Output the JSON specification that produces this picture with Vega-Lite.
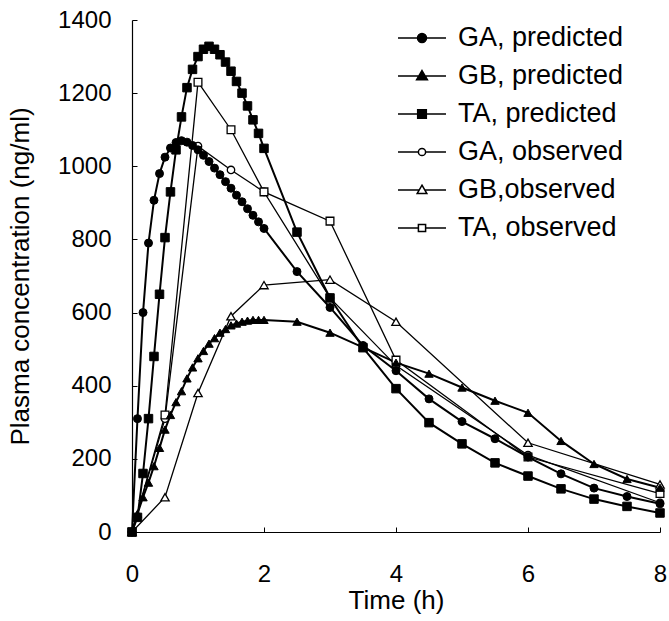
{
  "$schema": "https://vega.github.io/schema/vega-lite/v6.json",
  "autosize": {"type": "none"},
  "padding": {"left": 132, "top": 20, "right": 9, "bottom": 89},
  "width": 528,
  "height": 512,
  "background": "white",
  "config": {
    "view": {"stroke": null},
    "font": "Liberation Sans",
    "axis": {
      "grid": false,
      "domainColor": "black",
      "domainWidth": 1.2,
      "tickColor": "black",
      "tickSize": -5,
      "labelColor": "black",
      "titleColor": "black",
      "labelFont": "Liberation Sans",
      "titleFont": "Liberation Sans",
      "labelFontSize": 24,
      "titleFontSize": 26,
      "titleFontWeight": "normal"
    },
    "legend": {
      "labelFont": "Liberation Sans",
      "labelFontSize": 27,
      "labelColor": "black",
      "labelLimit": 400
    }
  },
  "data": {
    "values": [
      {"series": "GA, predicted", "t": 0, "c": 0},
      {"series": "GA, predicted", "t": 0.083, "c": 310},
      {"series": "GA, predicted", "t": 0.167, "c": 600},
      {"series": "GA, predicted", "t": 0.25, "c": 790},
      {"series": "GA, predicted", "t": 0.333, "c": 907},
      {"series": "GA, predicted", "t": 0.417, "c": 980},
      {"series": "GA, predicted", "t": 0.5, "c": 1025},
      {"series": "GA, predicted", "t": 0.583, "c": 1050},
      {"series": "GA, predicted", "t": 0.667, "c": 1065},
      {"series": "GA, predicted", "t": 0.75, "c": 1070},
      {"series": "GA, predicted", "t": 0.833, "c": 1066},
      {"series": "GA, predicted", "t": 0.917, "c": 1057},
      {"series": "GA, predicted", "t": 1.0, "c": 1045},
      {"series": "GA, predicted", "t": 1.083, "c": 1030},
      {"series": "GA, predicted", "t": 1.167, "c": 1013},
      {"series": "GA, predicted", "t": 1.25, "c": 995},
      {"series": "GA, predicted", "t": 1.333, "c": 977},
      {"series": "GA, predicted", "t": 1.417, "c": 958},
      {"series": "GA, predicted", "t": 1.5, "c": 940},
      {"series": "GA, predicted", "t": 1.583, "c": 921},
      {"series": "GA, predicted", "t": 1.667, "c": 903},
      {"series": "GA, predicted", "t": 1.75, "c": 884},
      {"series": "GA, predicted", "t": 1.833, "c": 866},
      {"series": "GA, predicted", "t": 1.917, "c": 848},
      {"series": "GA, predicted", "t": 2.0, "c": 830},
      {"series": "GA, predicted", "t": 2.5, "c": 712},
      {"series": "GA, predicted", "t": 3, "c": 614},
      {"series": "GA, predicted", "t": 3.5, "c": 510},
      {"series": "GA, predicted", "t": 4, "c": 441},
      {"series": "GA, predicted", "t": 4.5, "c": 364},
      {"series": "GA, predicted", "t": 5, "c": 302},
      {"series": "GA, predicted", "t": 5.5, "c": 255},
      {"series": "GA, predicted", "t": 6, "c": 205},
      {"series": "GA, predicted", "t": 6.5, "c": 159},
      {"series": "GA, predicted", "t": 7, "c": 120},
      {"series": "GA, predicted", "t": 7.5, "c": 97},
      {"series": "GA, predicted", "t": 8, "c": 77},
      {"series": "GB, predicted", "t": 0, "c": 0},
      {"series": "GB, predicted", "t": 0.083, "c": 50},
      {"series": "GB, predicted", "t": 0.167, "c": 95},
      {"series": "GB, predicted", "t": 0.25, "c": 135},
      {"series": "GB, predicted", "t": 0.333, "c": 180},
      {"series": "GB, predicted", "t": 0.417, "c": 230},
      {"series": "GB, predicted", "t": 0.5, "c": 280},
      {"series": "GB, predicted", "t": 0.583, "c": 320},
      {"series": "GB, predicted", "t": 0.667, "c": 355},
      {"series": "GB, predicted", "t": 0.75, "c": 385},
      {"series": "GB, predicted", "t": 0.833, "c": 420},
      {"series": "GB, predicted", "t": 0.917, "c": 450},
      {"series": "GB, predicted", "t": 1.0, "c": 475},
      {"series": "GB, predicted", "t": 1.083, "c": 495},
      {"series": "GB, predicted", "t": 1.167, "c": 515},
      {"series": "GB, predicted", "t": 1.25, "c": 530},
      {"series": "GB, predicted", "t": 1.333, "c": 545},
      {"series": "GB, predicted", "t": 1.417, "c": 555},
      {"series": "GB, predicted", "t": 1.5, "c": 565},
      {"series": "GB, predicted", "t": 1.583, "c": 570},
      {"series": "GB, predicted", "t": 1.667, "c": 575},
      {"series": "GB, predicted", "t": 1.75, "c": 578},
      {"series": "GB, predicted", "t": 1.833, "c": 580},
      {"series": "GB, predicted", "t": 1.917, "c": 580},
      {"series": "GB, predicted", "t": 2.0, "c": 580},
      {"series": "GB, predicted", "t": 2.5, "c": 575},
      {"series": "GB, predicted", "t": 3, "c": 545},
      {"series": "GB, predicted", "t": 3.5, "c": 505},
      {"series": "GB, predicted", "t": 4, "c": 463},
      {"series": "GB, predicted", "t": 4.5, "c": 433},
      {"series": "GB, predicted", "t": 5, "c": 395},
      {"series": "GB, predicted", "t": 5.5, "c": 359},
      {"series": "GB, predicted", "t": 6, "c": 326},
      {"series": "GB, predicted", "t": 6.5, "c": 249},
      {"series": "GB, predicted", "t": 7, "c": 186},
      {"series": "GB, predicted", "t": 7.5, "c": 145},
      {"series": "GB, predicted", "t": 8, "c": 121},
      {"series": "TA, predicted", "t": 0, "c": 0},
      {"series": "TA, predicted", "t": 0.083, "c": 40},
      {"series": "TA, predicted", "t": 0.167, "c": 160},
      {"series": "TA, predicted", "t": 0.25, "c": 310},
      {"series": "TA, predicted", "t": 0.333, "c": 480},
      {"series": "TA, predicted", "t": 0.417, "c": 650},
      {"series": "TA, predicted", "t": 0.5, "c": 805},
      {"series": "TA, predicted", "t": 0.583, "c": 930},
      {"series": "TA, predicted", "t": 0.667, "c": 1045},
      {"series": "TA, predicted", "t": 0.75, "c": 1135},
      {"series": "TA, predicted", "t": 0.833, "c": 1215},
      {"series": "TA, predicted", "t": 0.917, "c": 1265},
      {"series": "TA, predicted", "t": 1.0, "c": 1300},
      {"series": "TA, predicted", "t": 1.083, "c": 1320},
      {"series": "TA, predicted", "t": 1.167, "c": 1328},
      {"series": "TA, predicted", "t": 1.25, "c": 1320},
      {"series": "TA, predicted", "t": 1.333, "c": 1305},
      {"series": "TA, predicted", "t": 1.417, "c": 1285},
      {"series": "TA, predicted", "t": 1.5, "c": 1260},
      {"series": "TA, predicted", "t": 1.583, "c": 1232},
      {"series": "TA, predicted", "t": 1.667, "c": 1200},
      {"series": "TA, predicted", "t": 1.75, "c": 1165},
      {"series": "TA, predicted", "t": 1.833, "c": 1127},
      {"series": "TA, predicted", "t": 1.917, "c": 1090},
      {"series": "TA, predicted", "t": 2.0, "c": 1049},
      {"series": "TA, predicted", "t": 2.5, "c": 820},
      {"series": "TA, predicted", "t": 3, "c": 640},
      {"series": "TA, predicted", "t": 3.5, "c": 504},
      {"series": "TA, predicted", "t": 4, "c": 392},
      {"series": "TA, predicted", "t": 4.5, "c": 299},
      {"series": "TA, predicted", "t": 5, "c": 241},
      {"series": "TA, predicted", "t": 5.5, "c": 189},
      {"series": "TA, predicted", "t": 6, "c": 153},
      {"series": "TA, predicted", "t": 6.5, "c": 118},
      {"series": "TA, predicted", "t": 7, "c": 90},
      {"series": "TA, predicted", "t": 7.5, "c": 70},
      {"series": "TA, predicted", "t": 8, "c": 52},
      {"series": "GA, observed", "t": 0, "c": 0},
      {"series": "GA, observed", "t": 0.5, "c": 310},
      {"series": "GA, observed", "t": 1, "c": 1055},
      {"series": "GA, observed", "t": 1.5, "c": 990},
      {"series": "GA, observed", "t": 2, "c": 930},
      {"series": "GA, observed", "t": 3, "c": 640},
      {"series": "GA, observed", "t": 4, "c": 455},
      {"series": "GA, observed", "t": 6, "c": 210},
      {"series": "GA, observed", "t": 8, "c": 80},
      {"series": "GB,observed", "t": 0, "c": 0},
      {"series": "GB,observed", "t": 0.5, "c": 95},
      {"series": "GB,observed", "t": 1, "c": 380},
      {"series": "GB,observed", "t": 1.5, "c": 590},
      {"series": "GB,observed", "t": 2, "c": 675},
      {"series": "GB,observed", "t": 3, "c": 690},
      {"series": "GB,observed", "t": 4, "c": 575},
      {"series": "GB,observed", "t": 6, "c": 244},
      {"series": "GB,observed", "t": 8, "c": 130},
      {"series": "TA, observed", "t": 0, "c": 0},
      {"series": "TA, observed", "t": 0.5, "c": 320},
      {"series": "TA, observed", "t": 1, "c": 1230},
      {"series": "TA, observed", "t": 1.5, "c": 1100},
      {"series": "TA, observed", "t": 2, "c": 930},
      {"series": "TA, observed", "t": 3, "c": 850},
      {"series": "TA, observed", "t": 4, "c": 470},
      {"series": "TA, observed", "t": 6, "c": 205},
      {"series": "TA, observed", "t": 8, "c": 105}
    ]
  },
  "encoding": {
    "x": {
      "field": "t", "type": "quantitative",
      "scale": {"domain": [0, 8], "nice": false},
      "axis": {"values": [0, 2, 4, 6, 8], "format": "d", "title": "Time (h)", "labelPadding": 35, "titlePadding": 1, "labelFlush": false}
    },
    "y": {
      "field": "c", "type": "quantitative",
      "scale": {"domain": [0, 1400], "nice": false},
      "axis": {"values": [0, 200, 400, 600, 800, 1000, 1200, 1400], "format": "d", "title": "Plasma concentration (ng/ml)", "labelPadding": 26, "titlePadding": 24, "labelFlush": false}
    }
  },
  "layer": [
    {
      "transform": [{"filter": "indexof(datum.series, 'predicted') >= 0"}],
      "mark": {"type": "line", "stroke": "black", "strokeWidth": 2},
      "encoding": {"detail": {"field": "series"}, "order": {"field": "t"}}
    },
    {
      "transform": [{"filter": "indexof(datum.series, 'observed') >= 0"}],
      "mark": {"type": "line", "stroke": "black", "strokeWidth": 1.3},
      "encoding": {"detail": {"field": "series"}, "order": {"field": "t"}}
    },
    {
      "transform": [{"filter": "datum.series == 'GA, observed'"}],
      "mark": {"type": "point", "shape": "circle", "filled": true, "fill": "white", "stroke": "black", "strokeWidth": 1.3, "size": 55, "opacity": 1}
    },
    {
      "transform": [{"filter": "datum.series == 'GB,observed'"}],
      "mark": {"type": "point", "shape": "triangle-up", "filled": true, "fill": "white", "stroke": "black", "strokeWidth": 1.3, "size": 70, "opacity": 1}
    },
    {
      "transform": [{"filter": "datum.series == 'TA, observed'"}],
      "mark": {"type": "point", "shape": "square", "filled": true, "fill": "white", "stroke": "black", "strokeWidth": 1.3, "size": 60, "opacity": 1}
    },
    {
      "transform": [{"filter": "datum.series == 'GA, predicted'"}],
      "mark": {"type": "point", "shape": "circle", "filled": true, "fill": "black", "stroke": "black", "strokeWidth": 1, "size": 64, "opacity": 1}
    },
    {
      "transform": [{"filter": "datum.series == 'GB, predicted'"}],
      "mark": {"type": "point", "shape": "triangle-up", "filled": true, "fill": "black", "stroke": "black", "strokeWidth": 1, "size": 70, "opacity": 1}
    },
    {
      "transform": [{"filter": "datum.series == 'TA, predicted'"}],
      "mark": {"type": "point", "shape": "square", "filled": true, "fill": "black", "stroke": "black", "strokeWidth": 1, "size": 72, "opacity": 1}
    },
    {
      "transform": [{"filter": "datum.t < 0"}],
      "mark": {"type": "point", "filled": true, "stroke": "black", "strokeWidth": 1.5, "opacity": 1, "fillOpacity": 1},
      "encoding": {
        "shape": {
          "field": "series", "type": "nominal",
          "scale": {
            "domain": ["GA, predicted", "GB, predicted", "TA, predicted", "GA, observed", "GB,observed", "TA, observed"],
            "range": [
              "M-1.333,0H1.333M-0.25,0A0.25,0.25,0,1,1,0.25,0A0.25,0.25,0,1,1,-0.25,0Z",
              "M-1.333,0H1.333M0,-0.3L0.3,0.21L-0.3,0.21Z",
              "M-1.333,0H1.333M-0.24,-0.24H0.24V0.24H-0.24Z",
              "M-1.333,0H-0.2M0.2,0H1.333M-0.2,0A0.2,0.2,0,1,1,0.2,0A0.2,0.2,0,1,1,-0.2,0Z",
              "M-1.333,0H-0.17M0.17,0H1.333M0,-0.27L0.27,0.2L-0.27,0.2Z",
              "M-1.333,0H-0.2M0.2,0H1.333M-0.2,-0.2H0.2V0.2H-0.2Z"
            ]
          },
          "legend": {
            "title": null,
            "orient": "none",
            "legendX": 271,
            "legendY": -1,
            "padding": 0,
            "symbolSize": 1296,
            "labelOffset": 17,
            "rowPadding": 6,
            "labelFontSize": 27,
            "labelLimit": 400,
            "symbolOpacity": 1,
            "symbolFillColor": "black",
            "encode": {"symbols": {"update": {"stroke": {"value": "black"}, "strokeWidth": {"value": 1.5}, "opacity": {"value": 1}, "fillOpacity": {"value": 1}}}}
          }
        },
        "fill": {
          "field": "series", "type": "nominal",
          "scale": {
            "domain": ["GA, predicted", "GB, predicted", "TA, predicted", "GA, observed", "GB,observed", "TA, observed"],
            "range": ["black", "black", "black", "white", "white", "white"]
          },
          "legend": {
            "title": null,
            "orient": "none",
            "legendX": 271,
            "legendY": -1,
            "padding": 0,
            "symbolSize": 1296,
            "labelOffset": 17,
            "rowPadding": 6,
            "labelFontSize": 27,
            "labelLimit": 400,
            "symbolOpacity": 1,
            "encode": {"symbols": {"update": {"stroke": {"value": "black"}, "strokeWidth": {"value": 1.5}, "opacity": {"value": 1}, "fillOpacity": {"value": 1}}}}
          }
        }
      }
    }
  ]
}
